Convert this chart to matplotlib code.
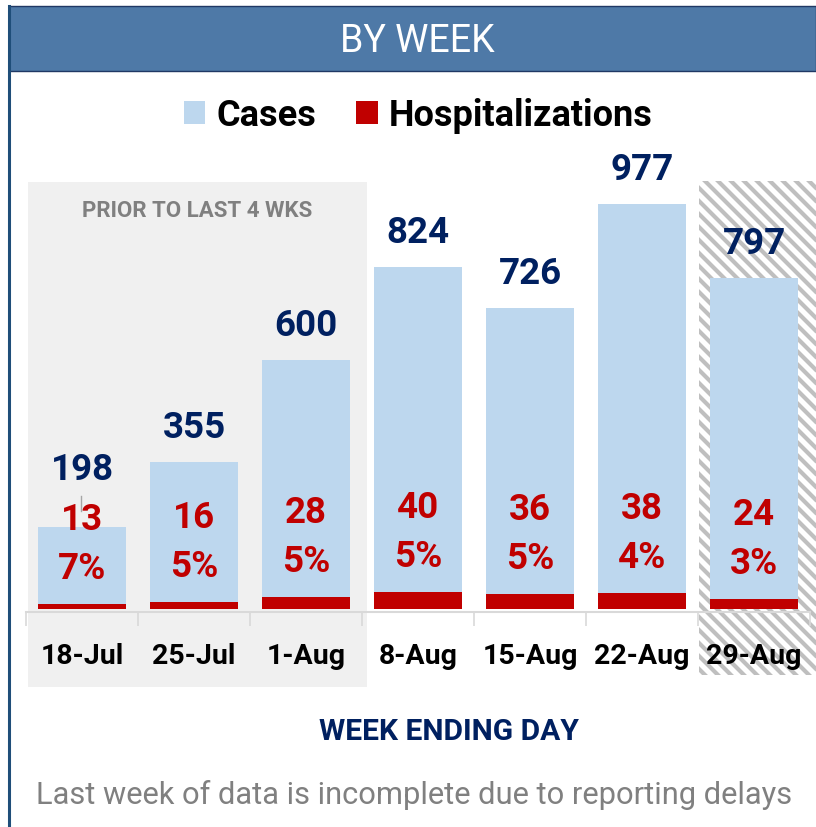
import numpy as np
import matplotlib.pyplot as plt
from matplotlib.patches import Rectangle

weeks = ['18-Jul', '25-Jul', '1-Aug', '8-Aug', '15-Aug', '22-Aug', '29-Aug']
cases = [198, 355, 600, 824, 726, 977, 797]
hosp = [13, 16, 28, 40, 36, 38, 24]

NAVY = '#002060'
RED = '#C00000'
LIGHT = '#BDD7EE'

plt.rcParams['font.family'] = ['Roboto', 'DejaVu Sans']

W, H = 816, 828
fig = plt.figure(figsize=(W / 100, H / 100), dpi=100)

# background layer, pixel coords with y pointing down
bg = fig.add_axes([0, 0, 1, 1])
bg.set_xlim(0, W)
bg.set_ylim(H, 0)
bg.axis('off')

bg.add_patch(Rectangle((9, 7), W - 9, 65, fc='#4E79A7', ec='#1F3864', lw=1))
bg.plot([9, 9], [7, H], color='#1F4E79', lw=2.2)
bg.text(417, 41, 'BY WEEK', color='white', fontsize=27, ha='center', va='center')

# shaded "older" weeks
bg.add_patch(Rectangle((28, 183), 339, 505, fc='#F0F0F0', lw=0))
bg.text(197, 211, 'PRIOR TO LAST 4 WKS', color='#808080', fontsize=16,
        fontweight='bold', ha='center', va='center')

# hatched box for the incomplete last week
hatch_box = Rectangle((699, 182), W - 699, 494, fc='white', lw=0)
bg.add_patch(hatch_box)
for c in np.arange(-900, 400, 13):
    ln, = bg.plot([600, 900], [600 + c, 900 + c], color='#BFBFBF', lw=3,
                  solid_capstyle='butt')
    ln.set_clip_path(hatch_box)
bg.plot([81, 81], [497, 512], color='#A6A6A6', lw=1)

bg.text(449, 732, 'WEEK ENDING DAY', color=NAVY, fontsize=21.6,
        fontweight='bold', ha='center', va='center')
bg.text(414, 795, 'Last week of data is incomplete due to reporting delays',
        color='#808080', fontsize=22.2, ha='center', va='center')

# bars
base_px = 610
top_px = 150
px_per_unit = 0.415
ymax = (base_px - top_px) / px_per_unit
ax = fig.add_axes([26 / W, (H - base_px) / H, 784 / W, (base_px - top_px) / H])
ax.patch.set_alpha(0)
x = np.arange(len(weeks))
b1 = ax.bar(x, cases, width=0.78, color=LIGHT, label='Cases')
b2 = ax.bar(x, hosp, width=0.78, color=RED, label='Hospitalizations')
ax.set_xlim(-0.5, len(weeks) - 0.5)
ax.set_ylim(0, ymax)

pt = 0.72  # points per pixel at dpi 100
for i in range(len(weeks)):
    ax.annotate(str(hosp[i]), (x[i], hosp[i]), xytext=(0, 85 * pt),
                textcoords='offset points', ha='center', va='center',
                color=RED, fontsize=26.5, fontweight='bold')
    ax.annotate(f'{hosp[i] / cases[i]:.0%}', (x[i], hosp[i]), xytext=(0, 36 * pt),
                textcoords='offset points', ha='center', va='center',
                color=RED, fontsize=26.5, fontweight='bold')
    # keep case label clear of the hospitalization label on short bars
    up = max(35, hosp[i] * px_per_unit + 85 + 50 - cases[i] * px_per_unit)
    ax.annotate(str(cases[i]), (x[i], cases[i]), xytext=(0, up * pt),
                textcoords='offset points', ha='center', va='center',
                color=NAVY, fontsize=26.5, fontweight='bold')

for s in ['top', 'right', 'left']:
    ax.spines[s].set_visible(False)
ax.spines['bottom'].set_color('#D9D9D9')
ax.spines['bottom'].set_linewidth(1.5)
ax.spines['bottom'].set_position(('outward', 2))
ax.set_yticks([])
ax.set_xticks(x)
ax.set_xticklabels(weeks, fontsize=20.5, fontweight='bold')
ax.set_xticks(np.arange(len(weeks) + 1) - 0.5, minor=True)
ax.tick_params(axis='x', which='major', length=0, pad=22)
ax.tick_params(axis='x', which='minor', length=10, width=1.2, color='#D9D9D9')

fig.legend(handles=[b1, b2], loc='center', bbox_to_anchor=(418 / W, 1 - 116 / H),
           ncol=2, frameon=False, prop={'size': 26, 'weight': 'bold'},
           handlelength=0.6, handleheight=0.6, handletextpad=0.3,
           columnspacing=1.1)

fig.savefig('out.png', dpi=100)
